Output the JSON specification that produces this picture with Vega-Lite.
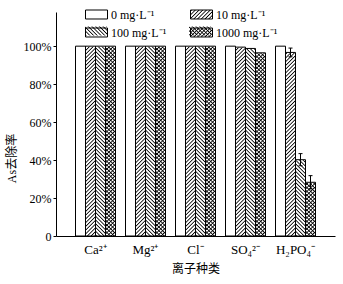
{
  "$schema": "https://vega.github.io/schema/vega-lite/v6.json",
  "width": 279,
  "height": 224,
  "autosize": "none",
  "padding": {"left": 56, "top": 12, "right": 8, "bottom": 48},
  "background": "white",
  "config": {
    "view": {"stroke": null},
    "axis": {"grid": false, "domainColor": "black", "tickColor": "black", "labelColor": "black", "titleColor": "black", "titleFontWeight": "normal"}
  },
  "resolve": {"scale": {"fill": "independent"}, "legend": {"fill": "independent"}},
  "data": {"values": [
    {"ion": "Ca²⁺", "conc": "0", "value": 100},
    {"ion": "Ca²⁺", "conc": "10", "value": 100},
    {"ion": "Ca²⁺", "conc": "100", "value": 100},
    {"ion": "Ca²⁺", "conc": "1000", "value": 100},
    {"ion": "Mg²⁺", "conc": "0", "value": 100},
    {"ion": "Mg²⁺", "conc": "10", "value": 100},
    {"ion": "Mg²⁺", "conc": "100", "value": 100},
    {"ion": "Mg²⁺", "conc": "1000", "value": 100},
    {"ion": "Cl⁻", "conc": "0", "value": 100},
    {"ion": "Cl⁻", "conc": "10", "value": 100},
    {"ion": "Cl⁻", "conc": "100", "value": 100},
    {"ion": "Cl⁻", "conc": "1000", "value": 100},
    {"ion": "SO₄²⁻", "conc": "0", "value": 100},
    {"ion": "SO₄²⁻", "conc": "10", "value": 99.5},
    {"ion": "SO₄²⁻", "conc": "100", "value": 98.8},
    {"ion": "SO₄²⁻", "conc": "1000", "value": 96.5},
    {"ion": "H₂PO₄⁻", "conc": "0", "value": 100},
    {"ion": "H₂PO₄⁻", "conc": "10", "value": 96.7, "lo": 94.4, "hi": 99.0},
    {"ion": "H₂PO₄⁻", "conc": "100", "value": 40.2, "lo": 37.0, "hi": 43.4},
    {"ion": "H₂PO₄⁻", "conc": "1000", "value": 28.3, "lo": 24.8, "hi": 31.8}
  ]},
  "encoding": {
    "x": {
      "field": "ion", "type": "nominal",
      "scale": {"type": "band", "domain": ["Ca²⁺", "Mg²⁺", "Cl⁻", "SO₄²⁻", "H₂PO₄⁻"], "paddingInner": 0.2, "paddingOuter": 0.39},
      "axis": {"title": "离子种类", "ticks": false, "labelAngle": 0, "labelPadding": 7, "labelFont": "Liberation Serif", "labelFontSize": 13, "titleFont": "Liberation Serif, Noto Sans CJK SC", "titleFontSize": 12, "titlePadding": 7}
    },
    "xOffset": {
      "field": "conc", "type": "nominal",
      "scale": {"type": "band", "domain": ["0", "10", "100", "1000"], "paddingInner": 0, "paddingOuter": 0}
    }
  },
  "layer": [
    {
      "mark": {"type": "bar", "fill": {"gradient": "linear", "x1": 0, "y1": 0, "x2": 0.046543, "y2": 1.042563, "stops": [
        {"offset":0,"color":"#0000"},{"offset":0.005,"color":"#000"},{"offset":0.01,"color":"#0000"},
        {"offset":0.016,"color":"#0000"},{"offset":0.021,"color":"#000"},{"offset":0.026,"color":"#0000"},
        {"offset":0.032,"color":"#0000"},{"offset":0.037,"color":"#000"},{"offset":0.042,"color":"#0000"},
        {"offset":0.048,"color":"#0000"},{"offset":0.053,"color":"#000"},{"offset":0.058,"color":"#0000"},
        {"offset":0.064,"color":"#0000"},{"offset":0.069,"color":"#000"},{"offset":0.074,"color":"#0000"},
        {"offset":0.08,"color":"#0000"},{"offset":0.085,"color":"#000"},{"offset":0.09,"color":"#0000"},
        {"offset":0.096,"color":"#0000"},{"offset":0.101,"color":"#000"},{"offset":0.106,"color":"#0000"},
        {"offset":0.112,"color":"#0000"},{"offset":0.117,"color":"#000"},{"offset":0.122,"color":"#0000"},
        {"offset":0.128,"color":"#0000"},{"offset":0.133,"color":"#000"},{"offset":0.138,"color":"#0000"},
        {"offset":0.144,"color":"#0000"},{"offset":0.149,"color":"#000"},{"offset":0.154,"color":"#0000"},
        {"offset":0.16,"color":"#0000"},{"offset":0.165,"color":"#000"},{"offset":0.17,"color":"#0000"},
        {"offset":0.176,"color":"#0000"},{"offset":0.181,"color":"#000"},{"offset":0.186,"color":"#0000"},
        {"offset":0.192,"color":"#0000"},{"offset":0.197,"color":"#000"},{"offset":0.202,"color":"#0000"},
        {"offset":0.208,"color":"#0000"},{"offset":0.213,"color":"#000"},{"offset":0.218,"color":"#0000"},
        {"offset":0.224,"color":"#0000"},{"offset":0.229,"color":"#000"},{"offset":0.234,"color":"#0000"},
        {"offset":0.24,"color":"#0000"},{"offset":0.245,"color":"#000"},{"offset":0.25,"color":"#0000"},
        {"offset":0.256,"color":"#0000"},{"offset":0.261,"color":"#000"},{"offset":0.266,"color":"#0000"},
        {"offset":0.272,"color":"#0000"},{"offset":0.277,"color":"#000"},{"offset":0.282,"color":"#0000"},
        {"offset":0.288,"color":"#0000"},{"offset":0.293,"color":"#000"},{"offset":0.298,"color":"#0000"},
        {"offset":0.304,"color":"#0000"},{"offset":0.309,"color":"#000"},{"offset":0.314,"color":"#0000"},
        {"offset":0.32,"color":"#0000"},{"offset":0.325,"color":"#000"},{"offset":0.33,"color":"#0000"},
        {"offset":0.336,"color":"#0000"},{"offset":0.341,"color":"#000"},{"offset":0.346,"color":"#0000"},
        {"offset":0.352,"color":"#0000"},{"offset":0.357,"color":"#000"},{"offset":0.362,"color":"#0000"},
        {"offset":0.368,"color":"#0000"},{"offset":0.373,"color":"#000"},{"offset":0.378,"color":"#0000"},
        {"offset":0.384,"color":"#0000"},{"offset":0.389,"color":"#000"},{"offset":0.394,"color":"#0000"},
        {"offset":0.4,"color":"#0000"},{"offset":0.405,"color":"#000"},{"offset":0.41,"color":"#0000"},
        {"offset":0.416,"color":"#0000"},{"offset":0.421,"color":"#000"},{"offset":0.426,"color":"#0000"},
        {"offset":0.432,"color":"#0000"},{"offset":0.437,"color":"#000"},{"offset":0.442,"color":"#0000"},
        {"offset":0.448,"color":"#0000"},{"offset":0.453,"color":"#000"},{"offset":0.458,"color":"#0000"},
        {"offset":0.464,"color":"#0000"},{"offset":0.469,"color":"#000"},{"offset":0.474,"color":"#0000"},
        {"offset":0.48,"color":"#0000"},{"offset":0.485,"color":"#000"},{"offset":0.49,"color":"#0000"},
        {"offset":0.496,"color":"#0000"},{"offset":0.501,"color":"#000"},{"offset":0.506,"color":"#0000"},
        {"offset":0.512,"color":"#0000"},{"offset":0.517,"color":"#000"},{"offset":0.522,"color":"#0000"},
        {"offset":0.528,"color":"#0000"},{"offset":0.533,"color":"#000"},{"offset":0.538,"color":"#0000"},
        {"offset":0.544,"color":"#0000"},{"offset":0.549,"color":"#000"},{"offset":0.554,"color":"#0000"},
        {"offset":0.56,"color":"#0000"},{"offset":0.565,"color":"#000"},{"offset":0.57,"color":"#0000"},
        {"offset":0.576,"color":"#0000"},{"offset":0.581,"color":"#000"},{"offset":0.586,"color":"#0000"},
        {"offset":0.592,"color":"#0000"},{"offset":0.597,"color":"#000"},{"offset":0.602,"color":"#0000"},
        {"offset":0.608,"color":"#0000"},{"offset":0.613,"color":"#000"},{"offset":0.618,"color":"#0000"},
        {"offset":0.624,"color":"#0000"},{"offset":0.629,"color":"#000"},{"offset":0.634,"color":"#0000"},
        {"offset":0.64,"color":"#0000"},{"offset":0.645,"color":"#000"},{"offset":0.65,"color":"#0000"},
        {"offset":0.656,"color":"#0000"},{"offset":0.661,"color":"#000"},{"offset":0.666,"color":"#0000"},
        {"offset":0.672,"color":"#0000"},{"offset":0.677,"color":"#000"},{"offset":0.682,"color":"#0000"},
        {"offset":0.688,"color":"#0000"},{"offset":0.693,"color":"#000"},{"offset":0.698,"color":"#0000"},
        {"offset":0.704,"color":"#0000"},{"offset":0.709,"color":"#000"},{"offset":0.714,"color":"#0000"},
        {"offset":0.72,"color":"#0000"},{"offset":0.725,"color":"#000"},{"offset":0.73,"color":"#0000"},
        {"offset":0.736,"color":"#0000"},{"offset":0.741,"color":"#000"},{"offset":0.746,"color":"#0000"},
        {"offset":0.752,"color":"#0000"},{"offset":0.757,"color":"#000"},{"offset":0.762,"color":"#0000"},
        {"offset":0.768,"color":"#0000"},{"offset":0.773,"color":"#000"},{"offset":0.778,"color":"#0000"},
        {"offset":0.784,"color":"#0000"},{"offset":0.789,"color":"#000"},{"offset":0.794,"color":"#0000"},
        {"offset":0.8,"color":"#0000"},{"offset":0.805,"color":"#000"},{"offset":0.81,"color":"#0000"},
        {"offset":0.816,"color":"#0000"},{"offset":0.821,"color":"#000"},{"offset":0.826,"color":"#0000"},
        {"offset":0.832,"color":"#0000"},{"offset":0.837,"color":"#000"},{"offset":0.842,"color":"#0000"},
        {"offset":0.848,"color":"#0000"},{"offset":0.853,"color":"#000"},{"offset":0.858,"color":"#0000"},
        {"offset":0.864,"color":"#0000"},{"offset":0.869,"color":"#000"},{"offset":0.874,"color":"#0000"},
        {"offset":0.88,"color":"#0000"},{"offset":0.885,"color":"#000"},{"offset":0.89,"color":"#0000"},
        {"offset":0.896,"color":"#0000"},{"offset":0.901,"color":"#000"},{"offset":0.906,"color":"#0000"},
        {"offset":0.912,"color":"#0000"},{"offset":0.917,"color":"#000"},{"offset":0.922,"color":"#0000"},
        {"offset":0.928,"color":"#0000"},{"offset":0.933,"color":"#000"},{"offset":0.938,"color":"#0000"},
        {"offset":0.944,"color":"#0000"},{"offset":0.949,"color":"#000"},{"offset":0.954,"color":"#0000"},
        {"offset":0.96,"color":"#0000"},{"offset":0.965,"color":"#000"},{"offset":0.97,"color":"#0000"},
        {"offset":0.976,"color":"#0000"},{"offset":0.981,"color":"#000"},{"offset":0.986,"color":"#0000"},
        {"offset":0.992,"color":"#0000"},{"offset":0.997,"color":"#000"},{"offset":1,"color":"#0000"}
      ]}},
      "transform": [{"filter": "datum.conc == '10' || datum.conc == '1000'"}],
      "encoding": {
        "y": {"datum": 118, "type": "quantitative", "scale": {"domain": [0, 118], "nice": false, "zero": true}},
        "y2": {"datum": 0}
      }
    },
    {
      "mark": {"type": "bar", "fill": {"gradient": "linear", "x1": 0, "y1": 1, "x2": 0.046543, "y2": -0.042563, "stops": [
        {"offset":0,"color":"#0000"},{"offset":0.005,"color":"#000"},{"offset":0.01,"color":"#0000"},
        {"offset":0.016,"color":"#0000"},{"offset":0.021,"color":"#000"},{"offset":0.026,"color":"#0000"},
        {"offset":0.032,"color":"#0000"},{"offset":0.037,"color":"#000"},{"offset":0.042,"color":"#0000"},
        {"offset":0.048,"color":"#0000"},{"offset":0.053,"color":"#000"},{"offset":0.058,"color":"#0000"},
        {"offset":0.064,"color":"#0000"},{"offset":0.069,"color":"#000"},{"offset":0.074,"color":"#0000"},
        {"offset":0.08,"color":"#0000"},{"offset":0.085,"color":"#000"},{"offset":0.09,"color":"#0000"},
        {"offset":0.096,"color":"#0000"},{"offset":0.101,"color":"#000"},{"offset":0.106,"color":"#0000"},
        {"offset":0.112,"color":"#0000"},{"offset":0.117,"color":"#000"},{"offset":0.122,"color":"#0000"},
        {"offset":0.128,"color":"#0000"},{"offset":0.133,"color":"#000"},{"offset":0.138,"color":"#0000"},
        {"offset":0.144,"color":"#0000"},{"offset":0.149,"color":"#000"},{"offset":0.154,"color":"#0000"},
        {"offset":0.16,"color":"#0000"},{"offset":0.165,"color":"#000"},{"offset":0.17,"color":"#0000"},
        {"offset":0.176,"color":"#0000"},{"offset":0.181,"color":"#000"},{"offset":0.186,"color":"#0000"},
        {"offset":0.192,"color":"#0000"},{"offset":0.197,"color":"#000"},{"offset":0.202,"color":"#0000"},
        {"offset":0.208,"color":"#0000"},{"offset":0.213,"color":"#000"},{"offset":0.218,"color":"#0000"},
        {"offset":0.224,"color":"#0000"},{"offset":0.229,"color":"#000"},{"offset":0.234,"color":"#0000"},
        {"offset":0.24,"color":"#0000"},{"offset":0.245,"color":"#000"},{"offset":0.25,"color":"#0000"},
        {"offset":0.256,"color":"#0000"},{"offset":0.261,"color":"#000"},{"offset":0.266,"color":"#0000"},
        {"offset":0.272,"color":"#0000"},{"offset":0.277,"color":"#000"},{"offset":0.282,"color":"#0000"},
        {"offset":0.288,"color":"#0000"},{"offset":0.293,"color":"#000"},{"offset":0.298,"color":"#0000"},
        {"offset":0.304,"color":"#0000"},{"offset":0.309,"color":"#000"},{"offset":0.314,"color":"#0000"},
        {"offset":0.32,"color":"#0000"},{"offset":0.325,"color":"#000"},{"offset":0.33,"color":"#0000"},
        {"offset":0.336,"color":"#0000"},{"offset":0.341,"color":"#000"},{"offset":0.346,"color":"#0000"},
        {"offset":0.352,"color":"#0000"},{"offset":0.357,"color":"#000"},{"offset":0.362,"color":"#0000"},
        {"offset":0.368,"color":"#0000"},{"offset":0.373,"color":"#000"},{"offset":0.378,"color":"#0000"},
        {"offset":0.384,"color":"#0000"},{"offset":0.389,"color":"#000"},{"offset":0.394,"color":"#0000"},
        {"offset":0.4,"color":"#0000"},{"offset":0.405,"color":"#000"},{"offset":0.41,"color":"#0000"},
        {"offset":0.416,"color":"#0000"},{"offset":0.421,"color":"#000"},{"offset":0.426,"color":"#0000"},
        {"offset":0.432,"color":"#0000"},{"offset":0.437,"color":"#000"},{"offset":0.442,"color":"#0000"},
        {"offset":0.448,"color":"#0000"},{"offset":0.453,"color":"#000"},{"offset":0.458,"color":"#0000"},
        {"offset":0.464,"color":"#0000"},{"offset":0.469,"color":"#000"},{"offset":0.474,"color":"#0000"},
        {"offset":0.48,"color":"#0000"},{"offset":0.485,"color":"#000"},{"offset":0.49,"color":"#0000"},
        {"offset":0.496,"color":"#0000"},{"offset":0.501,"color":"#000"},{"offset":0.506,"color":"#0000"},
        {"offset":0.512,"color":"#0000"},{"offset":0.517,"color":"#000"},{"offset":0.522,"color":"#0000"},
        {"offset":0.528,"color":"#0000"},{"offset":0.533,"color":"#000"},{"offset":0.538,"color":"#0000"},
        {"offset":0.544,"color":"#0000"},{"offset":0.549,"color":"#000"},{"offset":0.554,"color":"#0000"},
        {"offset":0.56,"color":"#0000"},{"offset":0.565,"color":"#000"},{"offset":0.57,"color":"#0000"},
        {"offset":0.576,"color":"#0000"},{"offset":0.581,"color":"#000"},{"offset":0.586,"color":"#0000"},
        {"offset":0.592,"color":"#0000"},{"offset":0.597,"color":"#000"},{"offset":0.602,"color":"#0000"},
        {"offset":0.608,"color":"#0000"},{"offset":0.613,"color":"#000"},{"offset":0.618,"color":"#0000"},
        {"offset":0.624,"color":"#0000"},{"offset":0.629,"color":"#000"},{"offset":0.634,"color":"#0000"},
        {"offset":0.64,"color":"#0000"},{"offset":0.645,"color":"#000"},{"offset":0.65,"color":"#0000"},
        {"offset":0.656,"color":"#0000"},{"offset":0.661,"color":"#000"},{"offset":0.666,"color":"#0000"},
        {"offset":0.672,"color":"#0000"},{"offset":0.677,"color":"#000"},{"offset":0.682,"color":"#0000"},
        {"offset":0.688,"color":"#0000"},{"offset":0.693,"color":"#000"},{"offset":0.698,"color":"#0000"},
        {"offset":0.704,"color":"#0000"},{"offset":0.709,"color":"#000"},{"offset":0.714,"color":"#0000"},
        {"offset":0.72,"color":"#0000"},{"offset":0.725,"color":"#000"},{"offset":0.73,"color":"#0000"},
        {"offset":0.736,"color":"#0000"},{"offset":0.741,"color":"#000"},{"offset":0.746,"color":"#0000"},
        {"offset":0.752,"color":"#0000"},{"offset":0.757,"color":"#000"},{"offset":0.762,"color":"#0000"},
        {"offset":0.768,"color":"#0000"},{"offset":0.773,"color":"#000"},{"offset":0.778,"color":"#0000"},
        {"offset":0.784,"color":"#0000"},{"offset":0.789,"color":"#000"},{"offset":0.794,"color":"#0000"},
        {"offset":0.8,"color":"#0000"},{"offset":0.805,"color":"#000"},{"offset":0.81,"color":"#0000"},
        {"offset":0.816,"color":"#0000"},{"offset":0.821,"color":"#000"},{"offset":0.826,"color":"#0000"},
        {"offset":0.832,"color":"#0000"},{"offset":0.837,"color":"#000"},{"offset":0.842,"color":"#0000"},
        {"offset":0.848,"color":"#0000"},{"offset":0.853,"color":"#000"},{"offset":0.858,"color":"#0000"},
        {"offset":0.864,"color":"#0000"},{"offset":0.869,"color":"#000"},{"offset":0.874,"color":"#0000"},
        {"offset":0.88,"color":"#0000"},{"offset":0.885,"color":"#000"},{"offset":0.89,"color":"#0000"},
        {"offset":0.896,"color":"#0000"},{"offset":0.901,"color":"#000"},{"offset":0.906,"color":"#0000"},
        {"offset":0.912,"color":"#0000"},{"offset":0.917,"color":"#000"},{"offset":0.922,"color":"#0000"},
        {"offset":0.928,"color":"#0000"},{"offset":0.933,"color":"#000"},{"offset":0.938,"color":"#0000"},
        {"offset":0.944,"color":"#0000"},{"offset":0.949,"color":"#000"},{"offset":0.954,"color":"#0000"},
        {"offset":0.96,"color":"#0000"},{"offset":0.965,"color":"#000"},{"offset":0.97,"color":"#0000"},
        {"offset":0.976,"color":"#0000"},{"offset":0.981,"color":"#000"},{"offset":0.986,"color":"#0000"},
        {"offset":0.992,"color":"#0000"},{"offset":0.997,"color":"#000"},{"offset":1,"color":"#0000"}
      ]}},
      "transform": [{"filter": "datum.conc == '100' || datum.conc == '1000'"}],
      "encoding": {
        "y": {"datum": 118, "type": "quantitative", "scale": {"domain": [0, 118], "nice": false, "zero": true}},
        "y2": {"datum": 0}
      }
    },
    {
      "mark": {"type": "bar", "fill": "white", "stroke": "white", "strokeWidth": 1},
      "encoding": {
        "y": {"field": "value", "type": "quantitative", "scale": {"domain": [0, 118], "nice": false, "zero": true}},
        "y2": {"datum": 118}
      }
    },
    {
      "mark": {"type": "bar", "fill": "transparent", "stroke": "black", "strokeWidth": 1},
      "encoding": {
        "y": {
          "field": "value", "type": "quantitative",
          "scale": {"domain": [0, 118], "nice": false, "zero": true},
          "axis": {"title": "As去除率", "values": [0, 20, 40, 60, 80, 100], "labelExpr": "datum.value === 0 ? '0' : datum.value + '%'", "tickSize": 3, "labelPadding": 2, "labelFont": "Liberation Serif", "labelFontSize": 12, "titleFont": "Liberation Serif, Noto Sans CJK SC", "titleFontSize": 12, "titleX": -38, "titleY": 146}
        }
      }
    },
    {
      "mark": {"type": "rule", "color": "black", "strokeWidth": 1},
      "encoding": {
        "y": {"field": "lo", "type": "quantitative", "scale": {"domain": [0, 118], "nice": false, "zero": true}},
        "y2": {"field": "hi"}
      }
    },
    {
      "mark": {"type": "tick", "orient": "horizontal", "size": 4, "thickness": 1, "color": "black", "opacity": 1},
      "encoding": {
        "y": {"field": "hi", "type": "quantitative", "scale": {"domain": [0, 118], "nice": false, "zero": true}}
      }
    },
    {
      "mark": {"type": "tick", "orient": "horizontal", "size": 4, "thickness": 1, "color": "black", "opacity": 1},
      "encoding": {
        "y": {"field": "lo", "type": "quantitative", "scale": {"domain": [0, 118], "nice": false, "zero": true}}
      }
    },
    {
      "mark": {"type": "bar", "opacity": 0, "stroke": "black"},
      "encoding": {
        "y": {"field": "value", "type": "quantitative", "scale": {"domain": [0, 118], "nice": false, "zero": true}},
        "fill": {
          "field": "conc", "type": "nominal",
          "scale": {"domain": ["0", "10", "100", "1000"], "range": [
            "transparent",
            {"expr": "{gradient:'linear',x1:0,y1:0,x2:1.20708,y2:0.49381,stops:[{offset:0,color:'#0000'},{offset:0.0375,color:'#000'},{offset:0.075,color:'#0000'},{offset:0.12,color:'#0000'},{offset:0.1575,color:'#000'},{offset:0.195,color:'#0000'},{offset:0.24,color:'#0000'},{offset:0.2775,color:'#000'},{offset:0.315,color:'#0000'},{offset:0.36,color:'#0000'},{offset:0.3975,color:'#000'},{offset:0.435,color:'#0000'},{offset:0.48,color:'#0000'},{offset:0.5175,color:'#000'},{offset:0.555,color:'#0000'},{offset:0.6,color:'#0000'},{offset:0.6375,color:'#000'},{offset:0.675,color:'#0000'},{offset:0.72,color:'#0000'},{offset:0.7575,color:'#000'},{offset:0.795,color:'#0000'},{offset:0.84,color:'#0000'},{offset:0.8775,color:'#000'},{offset:0.915,color:'#0000'},{offset:0.96,color:'#0000'},{offset:0.9975,color:'#000'},{offset:1,color:'#000'}]}"},
            "transparent",
            {"expr": "{gradient:'linear',x1:0,y1:0,x2:1.20708,y2:0.49381,stops:[{offset:0,color:'#0000'},{offset:0.0375,color:'#000'},{offset:0.075,color:'#0000'},{offset:0.12,color:'#0000'},{offset:0.1575,color:'#000'},{offset:0.195,color:'#0000'},{offset:0.24,color:'#0000'},{offset:0.2775,color:'#000'},{offset:0.315,color:'#0000'},{offset:0.36,color:'#0000'},{offset:0.3975,color:'#000'},{offset:0.435,color:'#0000'},{offset:0.48,color:'#0000'},{offset:0.5175,color:'#000'},{offset:0.555,color:'#0000'},{offset:0.6,color:'#0000'},{offset:0.6375,color:'#000'},{offset:0.675,color:'#0000'},{offset:0.72,color:'#0000'},{offset:0.7575,color:'#000'},{offset:0.795,color:'#0000'},{offset:0.84,color:'#0000'},{offset:0.8775,color:'#000'},{offset:0.915,color:'#0000'},{offset:0.96,color:'#0000'},{offset:0.9975,color:'#000'},{offset:1,color:'#000'}]}"}
          ]},
          "legend": {
            "orient": "none", "legendX": 29, "legendY": -9, "direction": "horizontal", "columns": 2, "columnPadding": 21, "rowPadding": -8, "padding": 0,
            "title": null, "symbolType": "M-1,-0.409H1V0.409H-1Z", "symbolSize": 484, "labelOffset": 3,
            "symbolStrokeColor": "black", "symbolStrokeWidth": 1, "symbolOpacity": 1,
            "labelFont": "Liberation Serif", "labelFontSize": 12, "labelColor": "black",
            "labelExpr": "datum.label + ' mg·L⁻¹'"
          }
        }
      }
    },
    {
      "mark": {"type": "bar", "opacity": 0},
      "encoding": {
        "y": {"field": "value", "type": "quantitative", "scale": {"domain": [0, 118], "nice": false, "zero": true}},
        "fill": {
          "field": "conc", "type": "nominal",
          "scale": {"domain": ["0", "10", "100", "1000"], "range": [
            "transparent",
            "transparent",
            {"expr": "{gradient:'linear',x1:0,y1:1,x2:1.20708,y2:0.50619,stops:[{offset:0,color:'#0000'},{offset:0.0375,color:'#000'},{offset:0.075,color:'#0000'},{offset:0.12,color:'#0000'},{offset:0.1575,color:'#000'},{offset:0.195,color:'#0000'},{offset:0.24,color:'#0000'},{offset:0.2775,color:'#000'},{offset:0.315,color:'#0000'},{offset:0.36,color:'#0000'},{offset:0.3975,color:'#000'},{offset:0.435,color:'#0000'},{offset:0.48,color:'#0000'},{offset:0.5175,color:'#000'},{offset:0.555,color:'#0000'},{offset:0.6,color:'#0000'},{offset:0.6375,color:'#000'},{offset:0.675,color:'#0000'},{offset:0.72,color:'#0000'},{offset:0.7575,color:'#000'},{offset:0.795,color:'#0000'},{offset:0.84,color:'#0000'},{offset:0.8775,color:'#000'},{offset:0.915,color:'#0000'},{offset:0.96,color:'#0000'},{offset:0.9975,color:'#000'},{offset:1,color:'#000'}]}"},
            {"expr": "{gradient:'linear',x1:0,y1:1,x2:1.20708,y2:0.50619,stops:[{offset:0,color:'#0000'},{offset:0.0375,color:'#000'},{offset:0.075,color:'#0000'},{offset:0.12,color:'#0000'},{offset:0.1575,color:'#000'},{offset:0.195,color:'#0000'},{offset:0.24,color:'#0000'},{offset:0.2775,color:'#000'},{offset:0.315,color:'#0000'},{offset:0.36,color:'#0000'},{offset:0.3975,color:'#000'},{offset:0.435,color:'#0000'},{offset:0.48,color:'#0000'},{offset:0.5175,color:'#000'},{offset:0.555,color:'#0000'},{offset:0.6,color:'#0000'},{offset:0.6375,color:'#000'},{offset:0.675,color:'#0000'},{offset:0.72,color:'#0000'},{offset:0.7575,color:'#000'},{offset:0.795,color:'#0000'},{offset:0.84,color:'#0000'},{offset:0.8775,color:'#000'},{offset:0.915,color:'#0000'},{offset:0.96,color:'#0000'},{offset:0.9975,color:'#000'},{offset:1,color:'#000'}]}"}
          ]},
          "legend": {
            "orient": "none", "legendX": 29, "legendY": -9, "direction": "horizontal", "columns": 2, "columnPadding": 79, "rowPadding": -8, "padding": 0,
            "title": null, "symbolType": "M-1,-0.409H1V0.409H-1Z", "symbolSize": 484, "labelOffset": 3,
            "symbolStrokeColor": "transparent", "symbolStrokeWidth": 0, "symbolOpacity": 1,
            "labelFont": "Liberation Serif", "labelFontSize": 12,
            "labelExpr": "''"
          }
        }
      }
    }
  ]
}
